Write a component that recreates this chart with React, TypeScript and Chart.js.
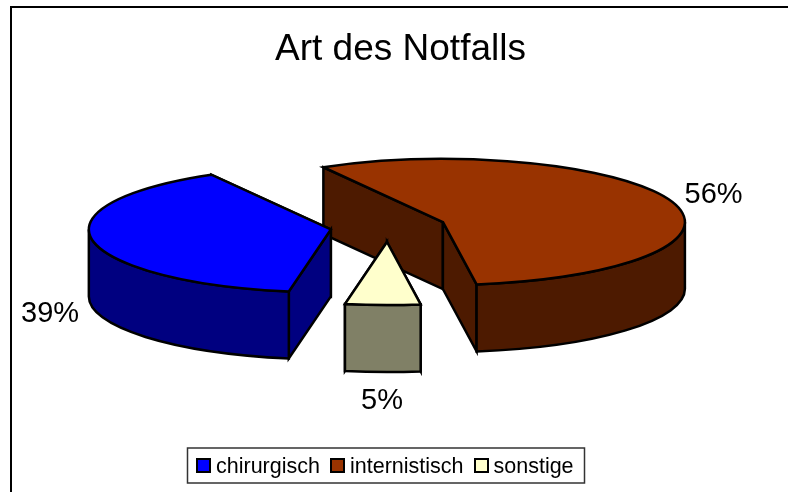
import React, { useEffect, useRef } from "react";
import { Chart, registerables } from "chart.js";

Chart.register(...registerables);

const categories = ["chirurgisch", "internistisch", "sonstige"];
const shares = [39, 56, 5];
const chartTitle = "Art des Notfalls";
const topColors = ["#0000FF", "#993300", "#FFFFCC"];
const sideColors = ["#000080", "#4D1A00", "#808066"];

const FONT = '"Liberation Sans", Arial, sans-serif';
const PIE_RADIUS = 242;
const TILT = 63 / 242;
const DEPTH = 67;
const EXPLODE = 58;
const DRAW_ORDER = [1, 0, 2];
const LABEL_SHIFT = [
  [-42.3, 81.8],
  [41.6, 1.3],
  [-0.8, 104.1],
];

function drawFrame(ctx: CanvasRenderingContext2D) {
  ctx.save();
  ctx.strokeStyle = "#000";
  ctx.lineWidth = 2;
  ctx.beginPath();
  ctx.moveTo(11, 492);
  ctx.lineTo(11, 7);
  ctx.lineTo(788, 7);
  ctx.stroke();
  ctx.restore();
}

function drawSlice(ctx: CanvasRenderingContext2D, arc: any, top: string, side: string) {
  const { startAngle: a0, endAngle: a1, outerRadius: r } = arc;
  const mid = (a0 + a1) / 2;
  const ry = r * TILT;
  const cx = arc.x + Math.cos(mid) * EXPLODE;
  const cy = arc.y + Math.sin(mid) * EXPLODE * TILT;
  const px = (t: number) => cx + r * Math.cos(t);
  const py = (t: number) => cy + ry * Math.sin(t);

  ctx.save();
  ctx.lineWidth = 2.5;
  ctx.strokeStyle = "#000";
  ctx.lineJoin = "miter";

  const faces = [a0, a1].sort((p, q) => py(p) - py(q));
  ctx.fillStyle = side;
  for (const t of faces) {
    ctx.beginPath();
    ctx.moveTo(cx, cy);
    ctx.lineTo(px(t), py(t));
    ctx.lineTo(px(t), py(t) + DEPTH);
    ctx.lineTo(cx, cy + DEPTH);
    ctx.closePath();
    ctx.fill();
    ctx.stroke();
  }

  for (let n = -1; n <= 2; n++) {
    const from = Math.max(a0, 2 * Math.PI * n);
    const to = Math.min(a1, Math.PI + 2 * Math.PI * n);
    if (to <= from) continue;
    ctx.beginPath();
    ctx.ellipse(cx, cy, r, ry, 0, from, to);
    ctx.lineTo(px(to), py(to) + DEPTH);
    ctx.ellipse(cx, cy + DEPTH, r, ry, 0, to, from, true);
    ctx.closePath();
    ctx.fill();
    ctx.stroke();
  }

  ctx.fillStyle = top;
  ctx.beginPath();
  ctx.moveTo(cx, cy);
  ctx.ellipse(cx, cy, r, ry, 0, a0, a1);
  ctx.closePath();
  ctx.fill();
  ctx.stroke();
  ctx.restore();

  return { rimX: px(mid), rimY: py(mid) };
}

function drawLegend(ctx: CanvasRenderingContext2D) {
  const boxLeft = 187.5;
  const boxTop = 448;
  const boxW = 397;
  const boxH = 35;
  const swatchX = [197, 331, 475];
  const textX = [216, 350, 493.5];
  ctx.save();
  ctx.fillStyle = "#fff";
  ctx.strokeStyle = "#333";
  ctx.lineWidth = 1.5;
  ctx.fillRect(boxLeft, boxTop, boxW, boxH);
  ctx.strokeRect(boxLeft, boxTop, boxW, boxH);
  ctx.font = `21.5px ${FONT}`;
  ctx.textAlign = "left";
  ctx.textBaseline = "alphabetic";
  categories.forEach((name, i) => {
    ctx.fillStyle = topColors[i];
    ctx.strokeStyle = "#000";
    ctx.lineWidth = 2;
    ctx.fillRect(swatchX[i], boxTop + 11, 13, 13);
    ctx.strokeRect(swatchX[i], boxTop + 11, 13, 13);
    ctx.fillStyle = "#000";
    ctx.fillText(name, textX[i], boxTop + 25);
  });
  ctx.restore();
}

const pie3d = {
  id: "pie3d",
  afterLayout(chart: any) {
    chart.titleBlock.left += 12.5;
    chart.titleBlock.right += 12.5;
  },
  beforeDatasetsDraw(chart: any) {
    const ctx = chart.ctx as CanvasRenderingContext2D;
    const arcs = chart.getDatasetMeta(0).data;
    drawFrame(ctx);
    const rims: any[] = [];
    for (const i of DRAW_ORDER) {
      rims[i] = drawSlice(ctx, arcs[i], topColors[i], sideColors[i]);
    }
    ctx.save();
    ctx.fillStyle = "#000";
    ctx.font = `29px ${FONT}`;
    ctx.textAlign = "center";
    ctx.textBaseline = "alphabetic";
    shares.forEach((v, i) => {
      ctx.fillText(`${v}%`, rims[i].rimX + LABEL_SHIFT[i][0], rims[i].rimY + LABEL_SHIFT[i][1]);
    });
    ctx.restore();
    drawLegend(ctx);
    return false;
  },
};

export default function App() {
  const ref = useRef<HTMLCanvasElement | null>(null);
  useEffect(() => {
    document.body.style.margin = "0";
    document.body.style.overflow = "hidden";
    const chart = new Chart(ref.current as HTMLCanvasElement, {
      type: "pie",
      data: {
        labels: categories,
        datasets: [{ data: shares, backgroundColor: topColors, borderColor: "#000", borderWidth: 2 }],
      },
      options: {
        responsive: false,
        animation: false,
        events: [],
        rotation: 190,
        radius: PIE_RADIUS,
        layout: { padding: { top: 0, left: 0, right: 12, bottom: 110.6 } },
        plugins: {
          legend: { display: false },
          tooltip: { enabled: false },
          title: {
            display: true,
            text: chartTitle,
            color: "#000",
            font: { family: FONT, size: 37, weight: "normal", lineHeight: 1.2 },
            padding: { top: 28, bottom: 0 },
          },
        },
      },
      plugins: [pie3d],
    } as any);
    return () => chart.destroy();
  }, []);
  return <canvas ref={ref} width={788} height={492} style={{ display: "block" }} />;
}
